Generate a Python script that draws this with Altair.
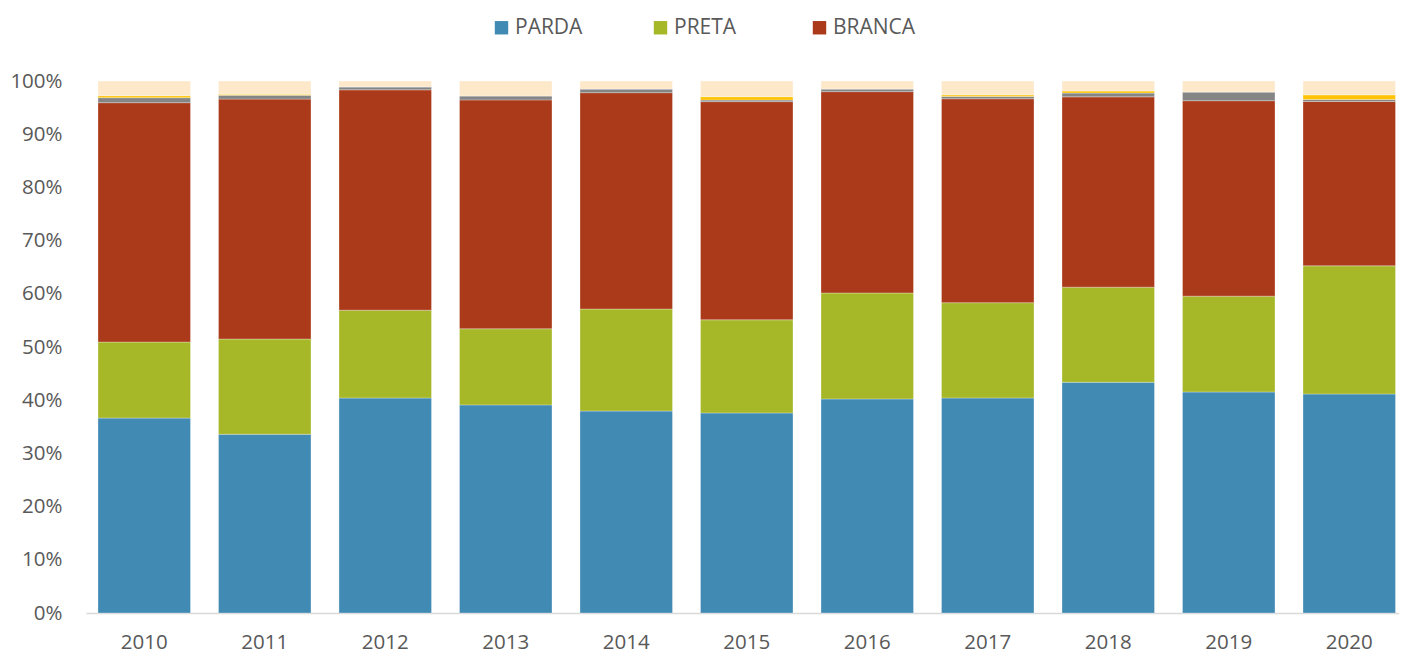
import altair as alt
import pandas as pd

years = ["2010", "2011", "2012", "2013", "2014", "2015", "2016", "2017", "2018", "2019", "2020"]
parda = [36.65, 33.6, 40.4, 39.1, 38.0, 37.6, 40.2, 40.4, 43.4, 41.5, 41.2]
preta = [14.3, 17.9, 16.5, 14.3, 19.2, 17.5, 19.9, 17.9, 17.9, 18.0, 24.1]
branca = [45.0, 45.1, 41.4, 43.0, 40.7, 41.0, 37.8, 38.3, 35.8, 36.7, 30.9]
amarela = [0.94, 0.7, 0.56, 0.75, 0.7, 0.3, 0.5, 0.44, 0.7, 1.63, 0.38]
indigena = [0.38, 0.2, 0.0, 0.0, 0.0, 0.63, 0.0, 0.3, 0.38, 0.0, 0.88]
ignorado = [2.76, 2.5, 1.1, 2.8, 1.5, 2.95, 1.5, 2.6, 1.9, 2.07, 2.6]

series_names = ["PARDA", "PRETA", "BRANCA", "AMARELA", "INDÍGENA", "IGNORADO"]
series_values = [parda, preta, branca, amarela, indigena, ignorado]
colors = ["#418AB3", "#A6B727", "#AA3A19", "#858585", "#FEC306", "#FDE9C9"]
legend_values = ["PARDA", "PRETA", "BRANCA"]

rows = []
for si, (name, vals) in enumerate(zip(series_names, series_values)):
    for y, v in zip(years, vals):
        rows.append({"ano": y, "cor": name, "valor": v, "ordem": si})
df = pd.DataFrame(rows)

FONT = "Open Sans"

chart = alt.Chart(df).mark_bar(stroke="white", strokeWidth=0.5, strokeOpacity=0.6).encode(
    x=alt.X("ano:N", title=None,
            scale=alt.Scale(paddingInner=0.2324, paddingOuter=0.0643, align=0.774, round=False),
            axis=alt.Axis(labelAngle=0, ticks=False, domainColor="#D9D9D9", domainWidth=1.5,
                          labelFont=FONT, labelFontSize=20.5, labelColor="#595959",
                          labelPadding=19)),
    y=alt.Y("valor:Q", stack="normalize", title=None,
            scale=alt.Scale(domain=[0, 1]),
            axis=alt.Axis(format=".0%", values=[i / 10 for i in range(11)], ticks=False,
                          domain=False, grid=False, labelFont=FONT, labelFontSize=20.5,
                          labelColor="#595959", labelPadding=24)),
    color=alt.Color("cor:N", scale=alt.Scale(domain=series_names, range=colors),
                    legend=alt.Legend(values=legend_values, title=None, orient="none",
                                      direction="horizontal", legendX=405, legendY=-64,
                                      columns=3, gridAlign="all", columnPadding=52,
                                      symbolType="square", symbolSize=180,
                                      symbolStrokeWidth=0, labelFont=FONT,
                                      labelFontSize=21, labelColor="#595959",
                                      labelOffset=3, padding=0)),
    order=alt.Order("ordem:Q", sort="ascending"),
).properties(
    width=1313, height=532,
    autosize=alt.AutoSizeParams(type="none"),
    padding={"left": 78, "top": 73, "right": 0, "bottom": 40},
).configure_view(stroke=None)

chart.save("out.html", embed_options={"renderer": "svg", "actions": False})
